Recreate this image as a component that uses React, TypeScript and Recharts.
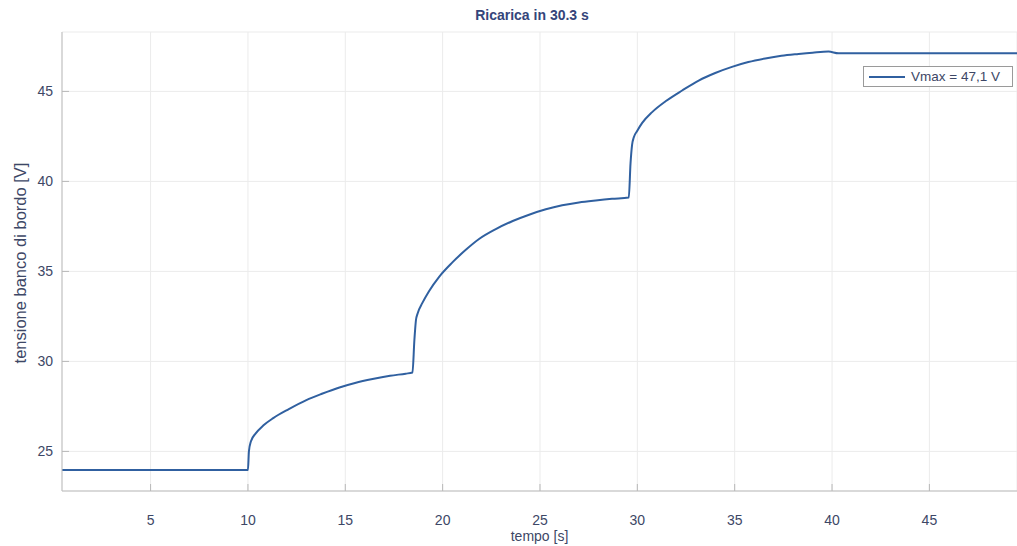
import { LineChart, Line, XAxis, YAxis, CartesianGrid } from "recharts"

// tempo [s]
const tempo = [
  0.45, 10.0, 10.05, 10.15, 10.4, 10.8, 11.3, 12.1, 13.0, 13.8, 14.7, 15.5,
  16.4, 17.3, 18.1, 18.45, 18.55, 18.63, 18.71, 18.96, 19.3, 19.82, 20.5,
  21.19, 21.87, 22.73, 23.6, 24.44, 25.3, 26.14, 27.0, 27.86, 28.7, 29.56,
  29.65, 29.73, 29.82, 29.99, 30.25, 30.76, 31.45, 32.3, 33.15, 34.0, 34.86,
  35.7, 36.57, 37.4, 38.28, 39.0, 39.82, 40.33, 45.0, 49.5,
]

// tensione banco di bordo [V]
const tensione = [
  23.97, 23.97, 25.0, 25.55, 26.0, 26.45, 26.85, 27.35, 27.85, 28.2, 28.55,
  28.8, 29.02, 29.2, 29.32, 29.38, 31.2, 32.3, 32.65, 33.25, 33.9, 34.7,
  35.5, 36.2, 36.8, 37.35, 37.8, 38.15, 38.45, 38.67, 38.83, 38.94, 39.03,
  39.1, 41.0, 42.03, 42.45, 42.8, 43.25, 43.85, 44.45, 45.05, 45.6, 46.02,
  46.36, 46.63, 46.83, 46.98, 47.08, 47.15, 47.21, 47.12, 47.12, 47.12,
]

const xTicks = [5, 10, 15, 20, 25, 30, 35, 40, 45]
const yTicks = [25, 30, 35, 40, 45]

const titolo = "Ricarica in 30.3 s"
const labelX = "tempo [s]"
const labelY = "tensione banco di bordo [V]"
const legenda = "Vmax = 47,1 V"

const data = tempo.map((t, i) => ({ t, v: tensione[i] }))

const FONT = "'Liberation Sans', Arial, sans-serif"
const TEXT = "#3d4766"
const LINE = "#3060a0"

const XTick = (props: any) => {
  const { x, y, payload } = props
  return (
    <g>
      <line x1={x} x2={x} y1={y} y2={y - 7} stroke="#b8b8b8" />
      <text
        x={x}
        y={y + 34}
        textAnchor="middle"
        fontSize={14}
        fontFamily={FONT}
        fill={TEXT}
      >
        {payload.value}
      </text>
    </g>
  )
}

const YTick = (props: any) => {
  const { x, y, payload } = props
  return (
    <g>
      <line x1={x + 9} x2={x + 16} y1={y} y2={y} stroke="#b8b8b8" />
      <text
        x={x}
        y={y + 5}
        textAnchor="end"
        fontSize={14}
        fontFamily={FONT}
        fill={TEXT}
      >
        {payload.value}
      </text>
    </g>
  )
}

export default function App() {
  return (
    <div
      style={{
        position: "absolute",
        left: 0,
        top: 0,
        width: 1017,
        height: 546,
        background: "#fff",
        fontFamily: FONT,
        color: TEXT,
      }}
    >
      <LineChart
        width={1017}
        height={546}
        data={data}
        margin={{ top: 32, right: 0, bottom: 0, left: 0 }}
      >
        <CartesianGrid stroke="#ebebeb" />
        <XAxis
          dataKey="t"
          type="number"
          domain={[0.45, 49.5]}
          ticks={xTicks}
          height={55}
          tickLine={false}
          tickSize={0}
          tickMargin={0}
          tick={<XTick />}
          stroke="#bdbdbd"
          allowDataOverflow
        />
        <YAxis
          type="number"
          domain={[22.8, 48.3]}
          ticks={yTicks}
          width={62}
          tickLine={false}
          tickSize={0}
          tickMargin={9}
          tick={<YTick />}
          stroke="#bdbdbd"
          allowDataOverflow
        />
        <Line
          type="monotone"
          dataKey="v"
          stroke={LINE}
          strokeWidth={2}
          dot={false}
          isAnimationActive={false}
        />
      </LineChart>

      <div
        style={{
          position: "absolute",
          left: 0,
          width: 1064,
          top: 7,
          textAlign: "center",
          fontWeight: "bold",
          fontSize: 14,
          lineHeight: "16px",
          color: "#34457a",
        }}
      >
        {titolo}
      </div>

      <div
        style={{
          position: "absolute",
          left: 0,
          width: 1079,
          top: 528,
          textAlign: "center",
          fontSize: 14,
          lineHeight: "16px",
        }}
      >
        {labelX}
      </div>

      <div
        style={{
          position: "absolute",
          left: 20,
          top: 263,
          transform: "translate(-50%, -50%) rotate(-90deg)",
          whiteSpace: "nowrap",
          fontSize: 16.5,
          lineHeight: "18px",
        }}
      >
        {labelY}
      </div>

      <div
        style={{
          position: "absolute",
          left: 863,
          top: 66,
          width: 150,
          height: 21,
          border: "1px solid #9a9a9a",
          background: "#fff",
          display: "flex",
          alignItems: "center",
          fontSize: 13.5,
          boxSizing: "border-box",
        }}
      >
        <div
          style={{
            width: 36,
            height: 2,
            background: LINE,
            marginLeft: 5,
            marginRight: 6,
          }}
        />
        <span style={{ whiteSpace: "nowrap" }}>{legenda}</span>
      </div>
    </div>
  )
}
